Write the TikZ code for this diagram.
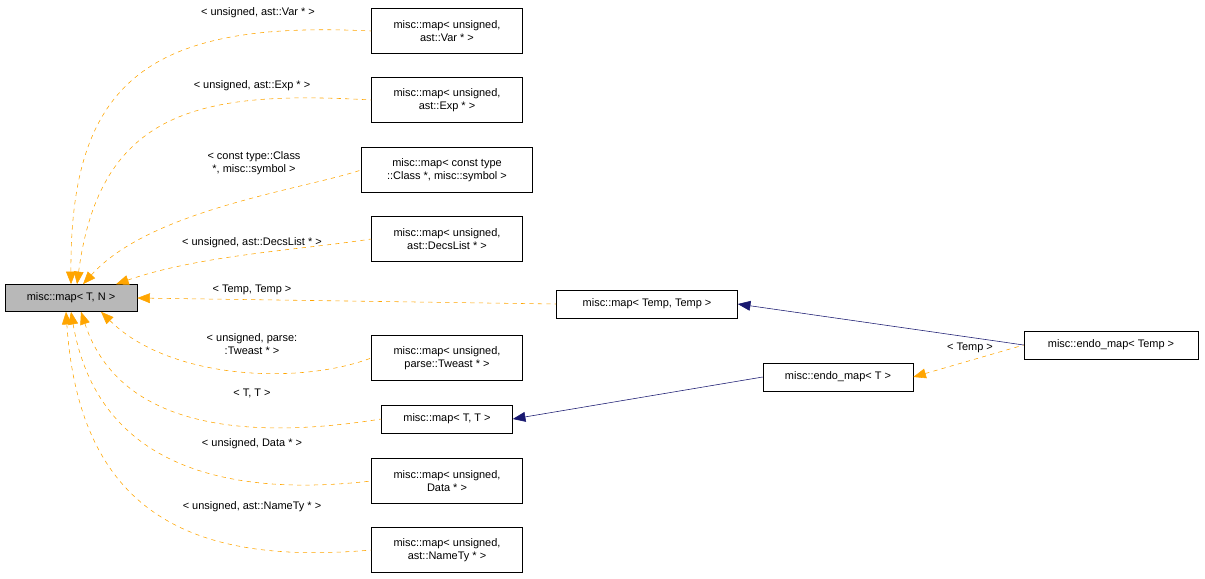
\documentclass[tikz,border=0pt]{standalone}
\usepackage{fontspec}
\setmainfont{Liberation Sans}
\usetikzlibrary{positioning,arrows.meta}
\definecolor{inhorange}{RGB}{255,165,0}
\definecolor{inhblue}{RGB}{25,25,112}
\begin{document}
\begin{tikzpicture}[x=0.025cm,y=-0.025cm,
    box/.style={rectangle, draw=black, fill=white, align=center, inner sep=1pt, font=\fontsize{7.8}{9.5}\selectfont},
    base/.style={box, fill=black!28},
    lbl/.style={font=\fontsize{7.8}{9.5}\selectfont, align=center, inner sep=0pt},
    tmpl/.style={{Triangle[width=7pt,length=9pt]}-, dashed, inhorange, thin},
    inh/.style={{Triangle[width=7pt,length=9pt]}-, inhblue, thin}
]
\useasboundingbox (0,0) rectangle (1205,579);

% nodes
\node[base, minimum width=132*0.025cm, minimum height=27*0.025cm] (mapTN) at (71,298) {misc::map\textless{} T, N \textgreater};
\node[box, minimum width=151*0.025cm, minimum height=45*0.025cm] (mapVar) at (447,31) {misc::map\textless{} unsigned,\\ ast::Var * \textgreater};
\node[box, minimum width=151*0.025cm, minimum height=45*0.025cm] (mapExp) at (447,100) {misc::map\textless{} unsigned,\\ ast::Exp * \textgreater};
\node[box, minimum width=171*0.025cm, minimum height=45*0.025cm] (mapClass) at (447,170) {misc::map\textless{} const type\\ ::Class *, misc::symbol \textgreater};
\node[box, minimum width=151*0.025cm, minimum height=45*0.025cm] (mapDecs) at (447,239) {misc::map\textless{} unsigned,\\ ast::DecsList * \textgreater};
\node[box, minimum width=181*0.025cm, minimum height=28*0.025cm] (mapTemp) at (647,304) {misc::map\textless{} Temp, Temp \textgreater};
\node[box, minimum width=151*0.025cm, minimum height=45*0.025cm] (mapTweast) at (447,358) {misc::map\textless{} unsigned,\\ parse::Tweast * \textgreater};
\node[box, minimum width=131*0.025cm, minimum height=28*0.025cm] (mapTT) at (447,419) {misc::map\textless{} T, T \textgreater};
\node[box, minimum width=151*0.025cm, minimum height=45*0.025cm] (mapData) at (447,481) {misc::map\textless{} unsigned,\\ Data * \textgreater};
\node[box, minimum width=151*0.025cm, minimum height=45*0.025cm] (mapName) at (447,550) {misc::map\textless{} unsigned,\\ ast::NameTy * \textgreater};
\node[box, minimum width=150*0.025cm, minimum height=28*0.025cm] (endoT) at (838,377) {misc::endo\_map\textless{} T \textgreater};
\node[box, minimum width=174*0.025cm, minimum height=28*0.025cm] (endoTemp) at (1111,345) {misc::endo\_map\textless{} Temp \textgreater};

% template instances
\draw[tmpl] (mapTN.north) ++(0,0) .. controls (70,80) and (150,20) .. (mapVar.west);
\draw[tmpl] (mapTN.north) ++(6,0) .. controls (100,110) and (200,90) .. (mapExp.west);
\draw[tmpl] (mapTN.north) ++(12,0) .. controls (150,210) and (300,190) .. (mapClass.west);
\draw[tmpl] (mapTN.north) ++(45,0) .. controls (200,255) and (300,250) .. (mapDecs.west);
\draw[tmpl] (mapTN.east) -- (mapTemp.west);
\draw[tmpl] (mapTN.south) ++(30,0) .. controls (170,380) and (300,385) .. (mapTweast.west);
\draw[tmpl] (mapTN.south) ++(10,0) .. controls (120,430) and (250,440) .. (mapTT.west);
\draw[tmpl] (mapTN.south) ++(0,0) .. controls (100,480) and (250,495) .. (mapData.west);
\draw[tmpl] (mapTN.south) ++(-5,0) .. controls (80,520) and (200,565) .. (mapName.west);
\draw[tmpl] (endoT.east) -- (endoTemp.west);

% inheritance
\draw[inh] (mapTemp.east) -- (endoTemp.west);
\draw[inh] (mapTT.east) -- (endoT.west);

% labels
\node[lbl] (lVar) at (258,13) {\textless{} unsigned, ast::Var * \textgreater};
\node[lbl] (lExp) at (252,86) {\textless{} unsigned, ast::Exp * \textgreater};
\node[lbl] (lClass) at (254,163) {\textless{} const type::Class\\ *, misc::symbol \textgreater};
\node[lbl] (lDecs) at (252,243) {\textless{} unsigned, ast::DecsList * \textgreater};
\node[lbl] (lTemp) at (252,290) {\textless{} Temp, Temp \textgreater};
\node[lbl] (lTweast) at (252,344) {\textless{} unsigned, parse:\\ :Tweast * \textgreater};
\node[lbl] (lTT) at (252,393) {\textless{} T, T \textgreater};
\node[lbl] (lData) at (252,444) {\textless{} unsigned, Data * \textgreater};
\node[lbl] (lName) at (252,507) {\textless{} unsigned, ast::NameTy * \textgreater};
\node[lbl] (lEndo) at (970,348) {\textless{} Temp \textgreater};
\end{tikzpicture}
\end{document}
